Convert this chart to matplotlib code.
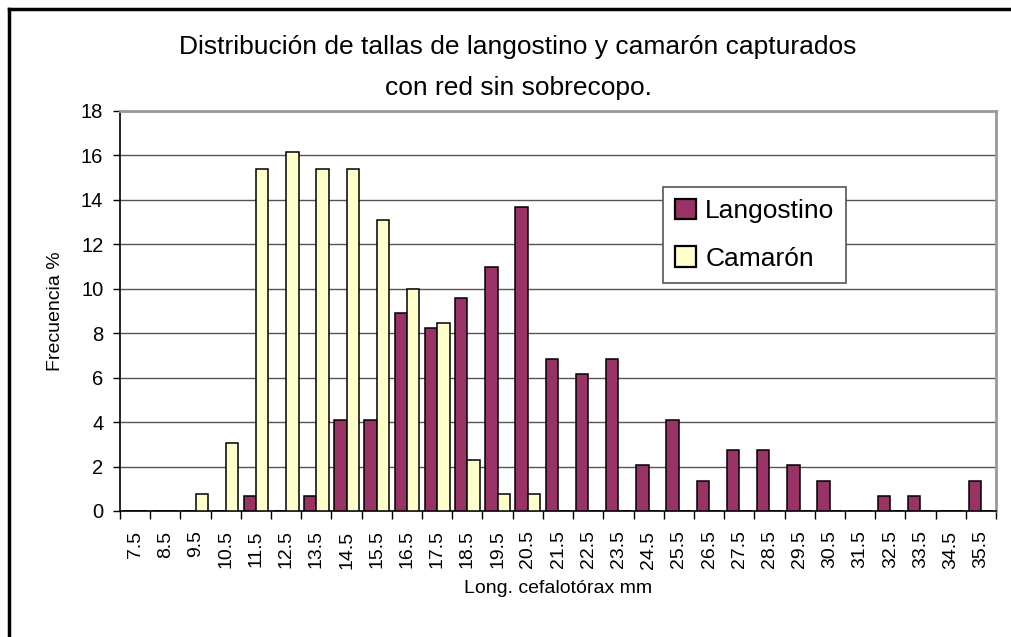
import numpy as np
import matplotlib.pyplot as plt
from matplotlib.lines import Line2D

plt.rcParams['font.family'] = ['Liberation Sans', 'DejaVu Sans']

# Size classes (cephalothorax length, mm)
tallas = ['7.5', '8.5', '9.5', '10.5', '11.5', '12.5', '13.5', '14.5', '15.5', '16.5',
          '17.5', '18.5', '19.5', '20.5', '21.5', '22.5', '23.5', '24.5', '25.5', '26.5',
          '27.5', '28.5', '29.5', '30.5', '31.5', '32.5', '33.5', '34.5', '35.5']
# Frequency %
langostino = [0, 0, 0, 0, 0.68, 0, 0.68, 4.11, 4.11, 8.9,
              8.22, 9.59, 10.96, 13.7, 6.85, 6.16, 6.85, 2.05, 4.11, 1.37,
              2.74, 2.74, 2.05, 1.37, 0, 0.68, 0.68, 0, 1.37]
camaron = [0, 0, 0.77, 3.08, 15.38, 16.15, 15.38, 15.38, 13.08, 10.0,
           8.46, 2.31, 0.77, 0.77, 0, 0, 0, 0, 0, 0,
           0, 0, 0, 0, 0, 0, 0, 0, 0]

fig = plt.figure(figsize=(10.11, 6.37), dpi=100)
ax = fig.add_axes([120 / 1011, 1 - 511 / 637, 876 / 1011, 400 / 637])

x = np.arange(len(tallas))
w = 0.41
ax.bar(x - w / 2, langostino, w, color='#993366', edgecolor='black', linewidth=1.1,
       label='Langostino', zorder=3)
ax.bar(x + w / 2, camaron, w, color='#FFFFCC', edgecolor='black', linewidth=1.1,
       label='Camarón', zorder=3)

ax.set_xlim(-0.5, len(tallas) - 0.5)
ax.set_ylim(0, 18)
ax.set_yticks(range(0, 19, 2))
ax.set_xticks(x)
ax.set_xticklabels(tallas, rotation=90, fontsize=14)
ax.tick_params(axis='x', length=0, pad=14)
ax.set_xticks(np.arange(-0.5, len(tallas), 1), minor=True)
ax.tick_params(axis='x', which='minor', length=6, width=1, direction='out')
ax.tick_params(axis='y', labelsize=14.5, length=5, width=1, pad=7)

ax.grid(axis='y', color='#555555', linewidth=1, zorder=0)
for s in ['top', 'right']:
    ax.spines[s].set_color('#999999')
    ax.spines[s].set_linewidth(2)
for s in ['left', 'bottom']:
    ax.spines[s].set_color('black')
    ax.spines[s].set_linewidth(1.2)

ax.set_ylabel('Frecuencia %', fontsize=14, labelpad=12)
ax.set_xlabel('Long. cefalotórax mm', fontsize=14, labelpad=8)

fig.text(518 / 1011, 1 - 47 / 637, 'Distribución de tallas de langostino y camarón capturados',
         ha='center', va='center', fontsize=19)
fig.text(518 / 1011, 1 - 88 / 637, 'con red sin sobrecopo.',
         ha='center', va='center', fontsize=19)

leg = ax.legend(loc='upper left', bbox_to_anchor=((663 - 120) / 876, (511 - 187) / 400),
                fontsize=19, frameon=True, fancybox=False, edgecolor='#555555',
                framealpha=1, handlelength=0.8, handleheight=0.8, handletextpad=0.35,
                borderpad=0.45, labelspacing=0.88, borderaxespad=0)
leg.get_frame().set_linewidth(1.2)
for p in leg.get_patches():
    p.set_linewidth(1.6)

# outer chart-area border (top and left only visible)
fig.add_artist(Line2D([9 / 1011, 1], [1 - 9 / 637, 1 - 9 / 637], color='black', lw=2.5,
                      transform=fig.transFigure))
fig.add_artist(Line2D([9 / 1011, 9 / 1011], [0, 1 - 9 / 637], color='black', lw=2.5,
                      transform=fig.transFigure))

fig.savefig('out.png', dpi=100)
